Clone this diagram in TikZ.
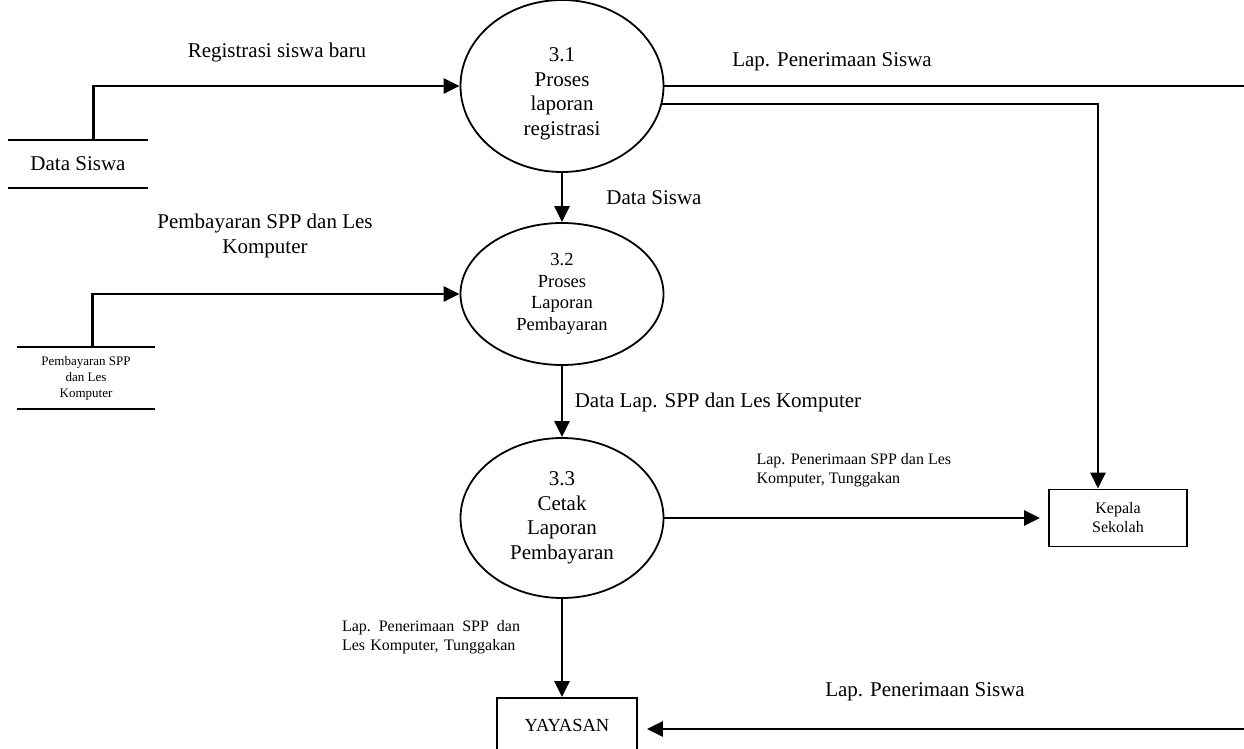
\documentclass[tikz,border=0pt]{standalone}
\usepackage{fontspec}
\setmainfont{Liberation Serif}
\usetikzlibrary{shapes.geometric,arrows.meta,calc}

\begin{document}
\begin{tikzpicture}[x=1pt,y=-1pt,
  proc/.style={ellipse,draw,line width=1.8pt,minimum width=203pt,inner sep=0pt,align=center},
  flow/.style={line width=2.8pt,-{Triangle[length=16pt,width=15pt]}},
  ent/.style={rectangle,draw,line width=1.8pt,align=center},
  big/.style={font=\fontsize{21}{24.5}\selectfont},
  mid/.style={font=\fontsize{18.5}{21.5}\selectfont},
  small/.style={font=\fontsize{16}{19}\selectfont},
  tiny/.style={font=\fontsize{13}{16}\selectfont}]
\useasboundingbox (0,0) rectangle (1244,749);
\clip (0,0) rectangle (1244,749);
% proses
\node at (562,86) [proc,big,minimum height=172pt] (p1) {\rule{0pt}{30pt}3.1\\Proses\\laporan\\registrasi};
\node at (562,294) [proc,mid,minimum height=142pt] (p2) {3.2\\Proses\\Laporan\\Pembayaran};
\node at (562,518) [proc,big,minimum height=160pt] (p3) {3.3\\Cetak\\Laporan\\Pembayaran};
% data store
\node at (78,164) [big,minimum width=139pt,minimum height=48pt] (ds1) {Data Siswa};
\draw[line width=2pt] (ds1.north west) -- (ds1.north east) (ds1.south west) -- (ds1.south east);
\node at (86,378) [tiny,align=center,minimum width=138pt,minimum height=61pt] (ds2) {Pembayaran SPP\\dan Les\\Komputer};
\draw[line width=2pt] (ds2.north west) -- (ds2.north east) (ds2.south west) -- (ds2.south east);
% entitas
\node at (1118,518) [ent,small,minimum width=138pt,minimum height=57pt] (kep) {Kepala\\Sekolah};
\node at (567,725) [ent,mid,minimum width=140pt,minimum height=54pt] (yay) {YAYASAN};
\coordinate (r1) at (1244,86);
\coordinate (r2) at (1244,729);
% aliran
\draw[flow] ($(ds1.north west)+(85,0)$) |- (p1.west);
\draw[flow] ($(ds2.north west)+(76,0)$) |- (p2.west);
\draw[flow] (p1.south) -- (p2.north);
\draw[flow] (p2.south) -- (p3.north);
\draw[line width=1.6pt] (p1.east) -- (r1);
\draw[flow] ($(p1.east)+(-2,18)$) -| ([xshift=-20pt]kep.north);
\draw[flow,shorten >=8pt] (p3.east) -- (kep.west);
\draw[flow] (p3.south) -- (p3.south |- yay.north);
\draw[flow,shorten >=9pt] (r2) -- (r2 -| yay.east);
% label
\node at (277,52) [big] (l1) {Registrasi siswa baru};
\node at (265,236) [big,align=center] (l2) {Pembayaran SPP dan Les\\Komputer};
\node at (832,62) [big] (l3) {Lap. Penerimaan Siswa};
\node at (654,198) [big] (l4) {Data Siswa};
\node at (718,402) [big] (l5) {Data Lap. SPP dan Les Komputer};
\node at (753,470) [small,anchor=west,align=left] (l6) {Lap. Penerimaan SPP dan Les\\Komputer, Tunggakan};
\node at (431,637) [small,align=left,text width=178pt] (l7) {Lap.\hfill Penerimaan\hfill SPP\hfill dan\\Les Komputer, Tunggakan};
\node at (925,692) [big] (l8) {Lap. Penerimaan Siswa};
\end{tikzpicture}
\end{document}
